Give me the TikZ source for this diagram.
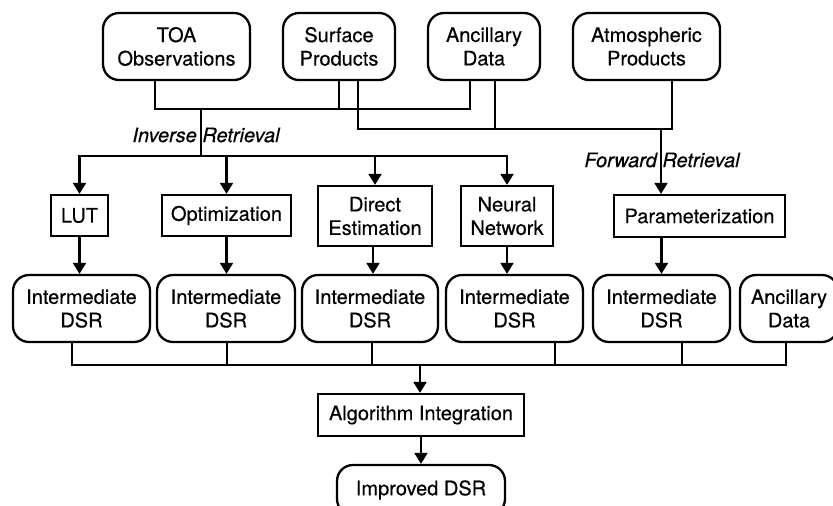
\documentclass[tikz,border=0pt]{standalone}
\usepackage{fontspec}
\setmainfont{TeX Gyre Heros}
\newfontfamily\diafont[FakeBold=0.35]{TeX Gyre Heros}
\usetikzlibrary{arrows.meta}
\begin{document}
\begin{tikzpicture}[x=1pt,y=-1pt,
  every node/.style={font=\diafont\fontsize{20}{23.5}\selectfont, align=center, inner sep=0pt},
  rbox/.style={draw, line width=2.3pt, rounded corners=16pt, minimum height=67pt},
  sbox/.style={draw, line width=2.3pt},
  conn/.style={line width=2.1pt},
  arr/.style={line width=2.1pt, -{Triangle[length=11pt,width=13pt]}},
  lbl/.style={font=\diafont\fontsize{20}{23.5}\selectfont\itshape}
]
\useasboundingbox (0,0) rectangle (833,506);
% top row
\node[rbox, minimum width=147pt] (toa) at (176.5,46.5) {TOA\\Observations};
\node[rbox, minimum width=112pt] (surf) at (339,46.5) {Surface\\Products};
\node[rbox, minimum width=112pt] (anc) at (484,46.5) {Ancillary\\Data};
\node[rbox, minimum width=147pt] (atm) at (646.5,46.5) {Atmospheric\\Products};
% method row
\node[sbox, minimum width=57pt, minimum height=41pt] (lut) at (79.5,215.5) {LUT};
\node[sbox, minimum width=129pt, minimum height=41pt] (opt) at (226.5,215.5) {Optimization};
\node[sbox, minimum width=114pt, minimum height=60pt] (dir) at (375,216) {Direct\\Estimation};
\node[sbox, minimum width=92pt, minimum height=60pt] (nn) at (507,216) {Neural\\Network};
\node[sbox, minimum width=171pt, minimum height=42pt] (par) at (699.5,216) {Parameterization};
% DSR row
\node[rbox, minimum width=137pt] (d1) at (81.5,308.5) {Intermediate\\DSR};
\node[rbox, minimum width=138pt] (d2) at (226,308.5) {Intermediate\\DSR};
\node[rbox, minimum width=136pt] (d3) at (370,308.5) {Intermediate\\DSR};
\node[rbox, minimum width=137pt] (d4) at (514.5,308.5) {Intermediate\\DSR};
\node[rbox, minimum width=137pt] (d5) at (661.5,308.5) {Intermediate\\DSR};
\node[rbox, minimum width=98pt] (anc2) at (789,308.5) {Ancillary\\Data};
% bottom
\node[sbox, minimum width=206pt, minimum height=42pt] (alg) at (421,415) {Algorithm Integration};
\node[rbox, minimum width=168pt, minimum height=50pt] (imp) at (421,490) {Improved DSR};
% labels
\node[lbl] (invl) at (206,135) {Inverse Retrieval};
\node[lbl] (fwdl) at (662,160) {Forward Retrieval};
% top connectors
\draw[conn] ([xshift=-21.5pt]toa.south) -- ++(0,28) -| ([xshift=-14pt]anc.south);
\draw[conn] (surf.south) -- ++(0,28);
\draw[conn] ([xshift=19pt]surf.south) -- ++(0,48) -| ([xshift=25.5pt]atm.south);
\draw[conn] ([xshift=11pt]anc.south) -- ++(0,48);
% inverse branch
\coordinate (inv) at (201,108);
\coordinate (invb) at (201,156);
\draw[conn] (inv) -- (invb);
\draw[arr] (invb) -| (lut.north);
\draw[arr] (invb) -| (opt.north);
\draw[arr] (invb) -| (dir.north);
\draw[arr] (invb) -| (nn.north);
% forward branch
\coordinate (fwd) at (661,128);
\draw[arr] (fwd) -- (fwd |- par.north);
% method -> DSR
\draw[arr] (lut.south) -- (lut.south |- d1.north);
\draw[arr] (opt.south) -- (opt.south |- d2.north);
\draw[arr] ([xshift=-2pt]dir.south) -- ([xshift=-2pt]dir.south |- d3.north);
\draw[arr] (nn.south) -- (nn.south |- d4.north);
\draw[arr] (d5.north |- par.south) -- (d5.north);
% bottom bus
\draw[conn] ([xshift=-9.5pt]d1.south) -- ++(0,22) -| ([xshift=-3pt]anc2.south);
\draw[conn] ([xshift=1pt]d2.south) -- ++(0,22);
\draw[conn] ([xshift=2pt]d3.south) -- ++(0,22);
\draw[conn] ([xshift=40.5pt]d4.south) -- ++(0,22);
\draw[conn] ([xshift=20.5pt]d5.south) -- ++(0,22);
\coordinate (busc) at (420,364);
\draw[arr] (busc) -- (busc |- alg.north);
\draw[arr] (alg.south) -- (imp.north);
\end{tikzpicture}
\end{document}
